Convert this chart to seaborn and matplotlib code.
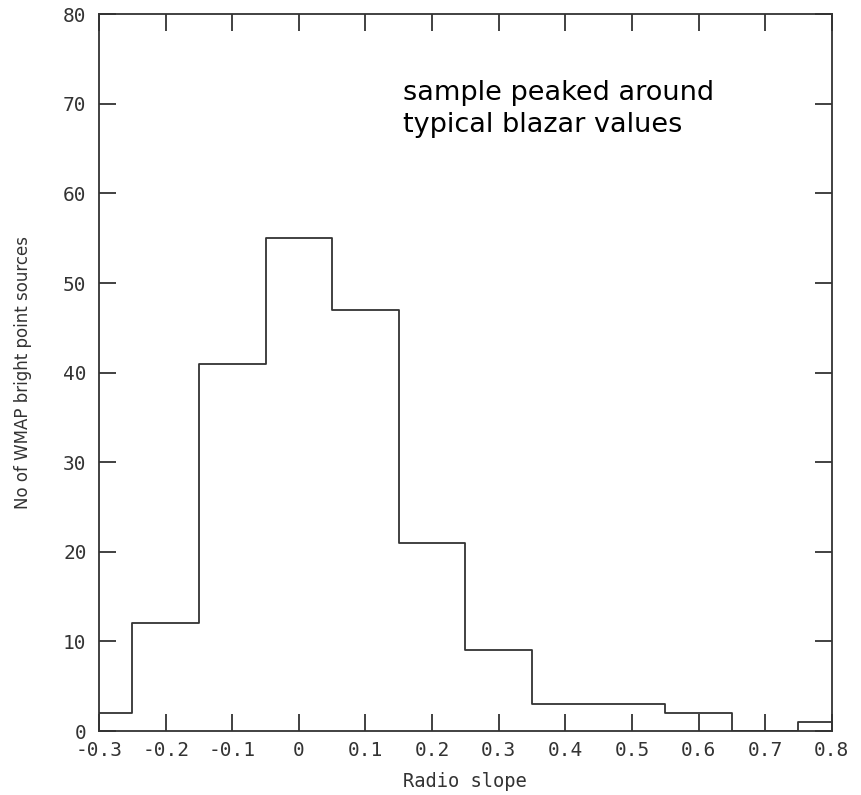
import matplotlib
matplotlib.use("Agg")
import matplotlib.pyplot as plt
import seaborn as sns
import pandas as pd

bin_centers = [-0.3, -0.2, -0.1, 0.0, 0.1, 0.2, 0.3, 0.4, 0.5, 0.6, 0.7, 0.8]
counts = [2, 12, 41, 55, 47, 21, 9, 3, 3, 2, 0, 1]
bin_edges = [-0.35, -0.25, -0.15, -0.05, 0.05, 0.15, 0.25, 0.35, 0.45, 0.55, 0.65, 0.75, 0.85]
xticks = [-0.3, -0.2, -0.1, 0, 0.1, 0.2, 0.3, 0.4, 0.5, 0.6, 0.7, 0.8]
xtick_labels = ["-0.3", "-0.2", "-0.1", "0", "0.1", "0.2", "0.3", "0.4", "0.5", "0.6", "0.7", "0.8"]
yticks = [0, 10, 20, 30, 40, 50, 60, 70, 80]

df = pd.DataFrame({"slope": bin_centers, "n": counts})

sns.set_style("white")
plt.rcParams["font.family"] = ["DejaVu Sans"]

fig = plt.figure(figsize=(8.61, 7.95), dpi=100)
ax = fig.add_axes([0.115, 0.0805, 0.851, 0.9015])
ink = "#333333"
sns.histplot(data=df, x="slope", weights="n", bins=bin_edges, element="step",
             fill=False, color=ink, linewidth=1.3, ax=ax)
ax.set_xlim(-0.3, 0.8)
ax.set_ylim(0, 80)
ax.set_xticks(xticks)
ax.set_xticklabels(xtick_labels)
ax.set_yticks(yticks)
ax.set_yticklabels([str(v) for v in yticks])
ax.tick_params(direction="in", length=12, width=1.3, color=ink, top=True, right=True,
               bottom=True, left=True, labelsize=14, labelcolor=ink,
               labelfontfamily="DejaVu Sans Mono")
ax.tick_params(axis="x", pad=7)
ax.tick_params(axis="y", pad=9)
for s in ax.spines.values():
    s.set_visible(True)
    s.set_color(ink)
    s.set_linewidth(1.3)
ax.set_xlabel("Radio slope", family="DejaVu Sans Mono", fontsize=13.5, color=ink, labelpad=9)
ax.set_ylabel("No of WMAP bright point sources", family="DejaVu Sans", fontsize=12, color=ink, labelpad=22)
ax.text(0.156, 69.4, "sample peaked around\ntypical blazar values", fontsize=19.5,
        color="black", ha="left", va="center", linespacing=1.3)
fig.savefig("out.png", dpi=100)
